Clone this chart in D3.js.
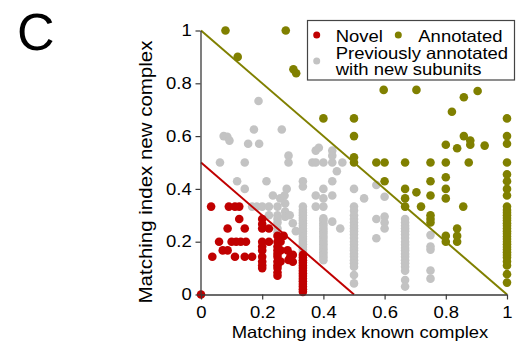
<!DOCTYPE html>
<html>
<head>
<meta charset="utf-8">
<script src="https://cdn.jsdelivr.net/npm/d3@7"></script>
<style>
html,body{margin:0;padding:0;background:#fff;}
svg{display:block;font-family:"Liberation Sans",Arial,sans-serif;}
</style>
</head>
<body>
<svg id="chart" width="516" height="344"></svg>
<script>
// ---------- data ----------
const tickValues = [0, 0.2, 0.4, 0.6, 0.8, 1];
const tickLabels = ["0", "0.2", "0.4", "0.6", "0.8", "1"];
const seriesNames = ["Novel", "Annotated", "Previously annotated", "with new subunits"];

const novel = [
  [0,0],
  [0.033,0.333],[0.091,0.333],[0.111,0.333],[0.125,0.333],
  [0.125,0.286],
  [0.087,0.25],[0.143,0.25],
  [0.059,0.2],[0.1,0.2],[0.115,0.2],[0.13,0.2],[0.147,0.2],
  [0.071,0.167],[0.087,0.167],
  [0.037,0.143],[0.111,0.143],[0.143,0.143],[0.167,0.143],
  [0.2,0.286],[0.2,0.267],[0.2,0.25],[0.2,0.2],[0.2,0.182],[0.2,0.167],[0.2,0.143],[0.2,0.125],[0.2,0.111],[0.2,0.1],
  [0.222,0.25],[0.222,0.2],
  [0.25,0.222],[0.25,0.2],[0.25,0.182],[0.25,0.167],[0.25,0.154],[0.25,0.143],[0.25,0.125],[0.25,0.111],[0.25,0.1],[0.25,0.083],[0.25,0.071],
  [0.26,0.2],[0.26,0.167],[0.26,0.125],
  [0.27,0.222],[0.283,0.167],[0.292,0.143],[0.286,0.131],[0.3,0.15],[0.3,0.124],
  [0.333,0.15],[0.333,0.14],[0.333,0.13],[0.333,0.12],[0.333,0.11],[0.333,0.1],[0.333,0.09],[0.333,0.08],
  [0.333,0.07],[0.333,0.06],[0.333,0.05],[0.333,0.04],[0.333,0.03],[0.333,0.02],[0.333,0.01]
];

const annotated = [
  [0.08,1],[0.277,1],[0.12,0.9],[0.302,0.853],[0.311,0.838],
  [0.4,0.667],[0.5,0.667],[0.5,0.6],[0.5,0.52],[0.5,0.5],
  [0.597,0.775],[0.704,0.775],[0.859,0.747],[0.904,0.771],[0.82,0.692],
  [0.8,0.567],[0.837,0.554],[0.859,0.6],[0.88,0.583],[0.88,0.567],[0.927,0.564],
  [0.573,0.5],[0.6,0.5],[0.667,0.5],[0.75,0.5],[0.8,0.5],[0.875,0.5],
  [0.6,0.429],[0.667,0.4],[0.704,0.387],[0.667,0.364],[0.667,0.333],[0.719,0.333],
  [0.75,0.429],[0.75,0.375],[0.75,0.3],[0.75,0.286],[0.75,0.273],
  [0.8,0.444],[0.8,0.4],[0.8,0.364],[0.8,0.222],[0.8,0.2],
  [0.857,0.333],[0.837,0.25],[0.837,0.222],[0.837,0.2],
  [1,0.667],[1,0.6],[1,0.571],[1,0.5],[1,0.455],[1,0.429],[1,0.4],[1,0.375],
  [1,0.333],[1,0.32],[1,0.31],[1,0.3],[1,0.29],[1,0.28],[1,0.27],[1,0.26],[1,0.25],[1,0.24],
  [1,0.23],[1,0.22],[1,0.21],[1,0.2],[1,0.19],[1,0.18],[1,0.17],[1,0.16],[1,0.15],[1,0.14],
  [1,0.125],[1,0.11],[1,0.077],[1,0.045]
];

const previous = [
  [0.188,0.733],
  [0.074,0.6],[0.086,0.597],[0.093,0.583],[0.173,0.625],[0.264,0.625],[0.154,0.571],[0.19,0.571],
  [0.286,0.526],[0.286,0.5],[0.062,0.5],[0.143,0.5],[0.364,0.5],[0.375,0.5],[0.4,0.5],[0.429,0.5],[0.462,0.5],
  [0.375,0.545],[0.385,0.556],[0.429,0.545],[0.429,0.526],[0.444,0.467],
  [0.118,0.429],[0.143,0.4],[0.214,0.429],[0.28,0.4],[0.333,0.429],[0.333,0.409],[0.429,0.429],
  [0.4,0.4],[0.429,0.375],[0.375,0.375],[0.4,0.364],[0.375,0.333],[0.4,0.333],
  [0.235,0.375],[0.259,0.364],[0.273,0.375],[0.5,0.4],[0.533,0.364],
  [0.275,0.345],[0.275,0.314],[0.275,0.295],
  [0.167,0.333],[0.182,0.333],[0.2,0.333],[0.222,0.333],[0.25,0.333],
  [0.222,0.3],[0.25,0.3],[0.25,0.286],[0.25,0.273],[0.25,0.25],[0.25,0.235],[0.3,0.27],[0.31,0.24],[0.29,0.3],
  [0.333,0.333],[0.333,0.32],[0.333,0.31],[0.333,0.3],[0.333,0.29],[0.333,0.28],[0.333,0.27],[0.333,0.26],
  [0.333,0.25],[0.333,0.24],[0.333,0.23],[0.333,0.22],[0.333,0.21],[0.333,0.2],[0.333,0.19],[0.333,0.18],
  [0.333,0.17],[0.333,0.16],
  [0.4,0.289],[0.4,0.28],[0.4,0.27],[0.4,0.26],[0.4,0.25],[0.4,0.24],[0.4,0.23],[0.4,0.22],[0.4,0.21],
  [0.4,0.2],[0.4,0.19],[0.4,0.18],[0.4,0.17],[0.4,0.16],[0.4,0.15],[0.4,0.14],[0.4,0.13],
  [0.429,0.276],[0.455,0.25],
  [0.5,0.333],[0.5,0.318],[0.5,0.3],[0.5,0.286],[0.5,0.273],[0.5,0.26],[0.5,0.25],[0.5,0.24],[0.5,0.227],
  [0.5,0.214],[0.5,0.2],[0.5,0.188],[0.5,0.176],[0.5,0.167],[0.5,0.154],[0.5,0.143],[0.5,0.13],[0.5,0.118],
  [0.5,0.105],[0.5,0.074],[0.5,0.042],
  [0.573,0.415],[0.573,0.286],[0.573,0.213],[0.6,0.37],[0.6,0.295],[0.6,0.273],[0.6,0.25],
  [0.667,0.286],[0.667,0.273],[0.667,0.26],[0.667,0.25],[0.667,0.24],[0.667,0.227],[0.667,0.214],[0.667,0.2],
  [0.667,0.188],[0.667,0.176],[0.667,0.167],[0.667,0.154],[0.667,0.143],[0.667,0.13],[0.667,0.118],
  [0.667,0.105],[0.667,0.09],[0.667,0.055],[0.667,0.03],
  [0.75,0.225],[0.75,0.182],[0.75,0.17],[0.75,0.091],[0.75,0.06]
];

// threshold lines (endpoints in data units)
const novelLine = [[0,0.5],[0.5,0]];
const annotatedLine = [[0,1],[1,0]];

// ---------- drawing ----------
const colors = {novel:"#c00000", annotated:"#808000", previous:"#c3c3c3", axis:"#3a3a3a"};
const FS = 16.5, SX = 1.12;

const svg = d3.select("#chart");
const x = d3.scaleLinear().domain([0,1]).range([201,507]);
const y = d3.scaleLinear().domain([0,1]).range([294.5,30.5]);

// panel letter
svg.append("text").attr("x",17).attr("y",50).attr("font-size",52).attr("fill","#000").text("C");

// points
const R = 4.3;
function dots(data, col){
  svg.append("g").selectAll("circle").data(data).join("circle")
    .attr("cx",d=>x(d[0])).attr("cy",d=>y(d[1])).attr("r",R).attr("fill",col);
}
dots(previous, colors.previous);
dots(novel, colors.novel);
dots(annotated, colors.annotated);

// lines
const lineGen = d3.line().x(d=>x(d[0])).y(d=>y(d[1]));
svg.append("path").datum(novelLine).attr("d",lineGen).attr("stroke",colors.novel).attr("stroke-width",2).attr("fill","none");
svg.append("path").datum(annotatedLine).attr("d",lineGen).attr("stroke",colors.annotated).attr("stroke-width",2).attr("fill","none");

// axes
const fmt = d => tickLabels[tickValues.indexOf(d)];
const gx = svg.append("g").attr("transform","translate(0,294.5)")
  .call(d3.axisBottom(x).tickValues(tickValues).tickFormat(fmt).tickSize(5).tickSizeOuter(0).tickPadding(6.5));
const gy = svg.append("g").attr("transform","translate(200.5,0)")
  .call(d3.axisLeft(y).tickValues(tickValues).tickFormat(fmt).tickSize(5).tickSizeOuter(0).tickPadding(3));
[gx,gy].forEach(g=>{
  g.select(".domain").attr("stroke",colors.axis).attr("stroke-width",1.3);
  g.selectAll(".tick line").attr("stroke",colors.axis).attr("stroke-width",1.2);
  g.selectAll("text").attr("font-size",FS).attr("font-family","'Liberation Sans',Arial,sans-serif").attr("fill","#000");
});
gx.selectAll(".tick text").attr("transform",`scale(${SX},1)`);
gy.selectAll(".tick text").attr("x",-8.8/SX).attr("transform",`scale(${SX},1)`);

// axis titles
svg.append("text").attr("text-anchor","middle").attr("font-size",FS)
  .attr("transform",`translate(360,338) scale(${SX},1)`).text("Matching index known complex");
svg.append("text").attr("text-anchor","middle").attr("font-size",18.3)
  .attr("transform",`translate(152,172) rotate(-90) scale(${SX},1)`).text("Matching index new complex");

// legend
const lg = svg.append("g");
lg.append("rect").attr("x",307.5).attr("y",20.5).attr("width",207).attr("height",59.5)
  .attr("fill","#fff").attr("stroke","#444").attr("stroke-width",1.2);
lg.append("circle").attr("cx",316.7).attr("cy",35).attr("r",3.5).attr("fill",colors.novel);
lg.append("circle").attr("cx",398.3).attr("cy",35).attr("r",3.5).attr("fill",colors.annotated);
lg.append("circle").attr("cx",316.7).attr("cy",61).attr("r",3.5).attr("fill",colors.previous);
function ltext(tx,ty,s){
  lg.append("text").attr("font-size",FS).attr("fill","#000")
    .attr("transform",`translate(${tx},${ty}) scale(${SX},1)`).text(s);
}
ltext(335.7,41.7,seriesNames[0]);
ltext(418.3,41.7,seriesNames[1]);
ltext(335.7,59.3,seriesNames[2]);
ltext(335.7,75.3,seriesNames[3]);
</script>
</body>
</html>
